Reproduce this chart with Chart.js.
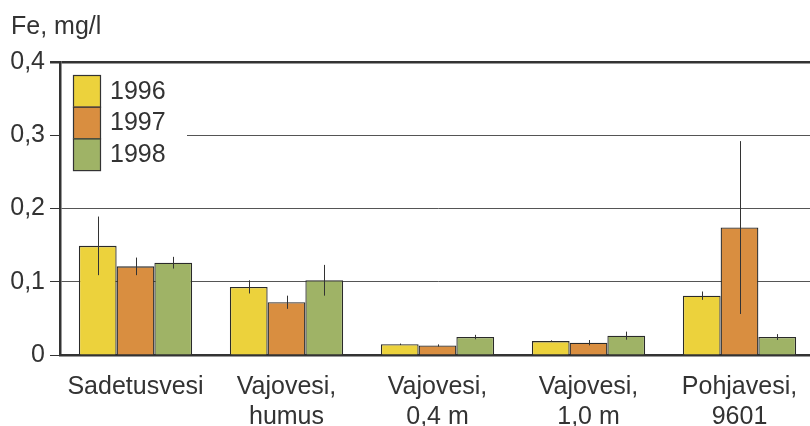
<!DOCTYPE html>
<html lang="fi">
  <head>
    <meta charset="UTF-8" />
    <title>Fe, mg/l</title>
    <script src="https://cdn.jsdelivr.net/npm/chart.js"></script>
    <style>
      body { margin: 0; background: #fff; }
      .wrap { width: 810px; height: 426px; overflow: hidden; }
    </style>
  </head>
  <body>
    <div class="wrap">
      <canvas id="feChart" width="816" height="426"></canvas>
    </div>
  </body>
</html>

<script>
  // arvot luettu kuvasta
  var kategoriat = [
    "Sadetusvesi",
    ["Vajovesi,", "humus"],
    ["Vajovesi,", "0,4 m"],
    ["Vajovesi,", "1,0 m"],
    ["Pohjavesi,", "9601"],
  ];
  var vuodet = ["1996", "1997", "1998"];
  var fe1996 = [0.149, 0.093, 0.0146, 0.019, 0.081];
  var fe1997 = [0.121, 0.072, 0.013, 0.0168, 0.174];
  var fe1998 = [0.126, 0.102, 0.0245, 0.0264, 0.0245];
  var virhe1996 = [0.04, 0.009, 0.001, 0.001, 0.0057];
  var virhe1997 = [0.012, 0.009, 0.0015, 0.0036, 0.118];
  var virhe1998 = [0.008, 0.021, 0.003, 0.0055, 0.004];
  var yTikit = [0, 0.1, 0.2, 0.3, 0.4];

  var virheet = [virhe1996, virhe1997, virhe1998];
  var varit = ["#ecd23c", "#d98e40", "#9fb366"];
  var fontti = "'Liberation Sans', Arial, sans-serif";
  var tekstiVari = "#333";

  // virhepalkit pystyviivoina
  var virhePalkit = {
    id: "virhePalkit",
    afterDatasetsDraw(chart) {
      var ctx = chart.ctx;
      var y = chart.scales.y;
      ctx.save();
      ctx.strokeStyle = "#333";
      ctx.lineWidth = 1;
      chart.data.datasets.forEach((ds, i) => {
        var meta = chart.getDatasetMeta(i);
        meta.data.forEach((bar, j) => {
          var v = ds.data[j];
          var e = virheet[i][j];
          var x = Math.round(bar.x) + 0.5;
          ctx.beginPath();
          ctx.moveTo(x, y.getPixelForValue(v + e));
          ctx.lineTo(x, y.getPixelForValue(v - e));
          ctx.stroke();
        });
      });
      ctx.restore();
    },
  };

  // 0,3 viiva alkaa selitteen oikealta puolelta
  var viiva03 = {
    id: "viiva03",
    beforeDatasetsDraw(chart) {
      var ctx = chart.ctx;
      var area = chart.chartArea;
      var yy = Math.round(chart.scales.y.getPixelForValue(0.3)) + 0.5;
      ctx.save();
      ctx.strokeStyle = "#555";
      ctx.lineWidth = 1;
      ctx.beginPath();
      ctx.moveTo(area.left + 127, yy);
      ctx.lineTo(area.right, yy);
      ctx.stroke();
      ctx.restore();
    },
  };

  // selite kuvaajan sisällä vasemmassa yläkulmassa
  var selite = {
    id: "selite",
    afterDraw(chart) {
      var ctx = chart.ctx;
      var area = chart.chartArea;
      var x0 = area.left + 13;
      var y0 = area.top + 13;
      var w = 27;
      var h = 31.7;
      ctx.save();
      chart.data.datasets.forEach((ds, i) => {
        var yy = y0 + i * h;
        ctx.fillStyle = ds.backgroundColor;
        ctx.fillRect(x0, yy, w, h);
        ctx.strokeStyle = "#333";
        ctx.lineWidth = 1.2;
        ctx.strokeRect(x0 + 0.5, yy + 0.5, w, h);
        ctx.fillStyle = tekstiVari;
        ctx.font = "25px " + fontti;
        ctx.textBaseline = "middle";
        ctx.textAlign = "left";
        ctx.fillText(ds.label, x0 + w + 10, yy + h / 2 + 1);
      });
      ctx.restore();
    },
  };

  var aineistot = [fe1996, fe1997, fe1998].map((d, i) => ({
    label: vuodet[i],
    data: d,
    backgroundColor: varit[i],
    borderColor: "#2a2a2a",
    borderWidth: 1.3,
    borderSkipped: "bottom",
    categoryPercentage: 0.75,
    barPercentage: 1,
  }));

  new Chart(document.getElementById("feChart"), {
    type: "bar",
    data: { labels: kategoriat, datasets: aineistot },
    plugins: [viiva03, virhePalkit, selite],
    options: {
      responsive: false,
      animation: false,
      layout: { padding: { top: 0, right: 1, bottom: 0, left: 11 } },
      plugins: {
        legend: { display: false },
        tooltip: { enabled: false },
        title: {
          display: true,
          text: "Fe, mg/l",
          align: "start",
          color: tekstiVari,
          font: { family: fontti, size: 25, weight: "normal" },
          padding: { top: 12, bottom: 20 },
        },
      },
      scales: {
        x: {
          afterFit: (s) => { s.height = 71; },
          grid: { display: false, drawTicks: false },
          border: { display: true, color: "#333", width: 2.5 },
          ticks: {
            color: tekstiVari,
            padding: 17,
            maxRotation: 0,
            autoSkip: false,
            font: { family: fontti, size: 25, lineHeight: 1.2 },
          },
        },
        y: {
          min: 0,
          max: 0.4,
          afterFit: (s) => { s.width = 49; },
          afterBuildTicks: (s) => { s.ticks = yTikit.map((v) => ({ value: v })); },
          grid: {
            color: (c) => {
              if (!c.tick) return "#555";
              if (c.tick.value === 0) return "transparent";
              if (c.tick.value === 0.3) return "transparent";
              if (c.tick.value === 0.4) return "#333";
              return "#555";
            },
            lineWidth: (c) => (c.tick && c.tick.value === 0.4 ? 2.5 : 1),
            tickColor: "#333",
            tickLength: 10,
          },
          border: { display: true, color: "#333", width: 2.5 },
          ticks: {
            color: tekstiVari,
            padding: 5,
            font: { family: fontti, size: 25 },
            callback: (v) => (v === 0 ? "0" : v.toFixed(1).replace(".", ",")),
          },
        },
      },
    },
  });
</script>
